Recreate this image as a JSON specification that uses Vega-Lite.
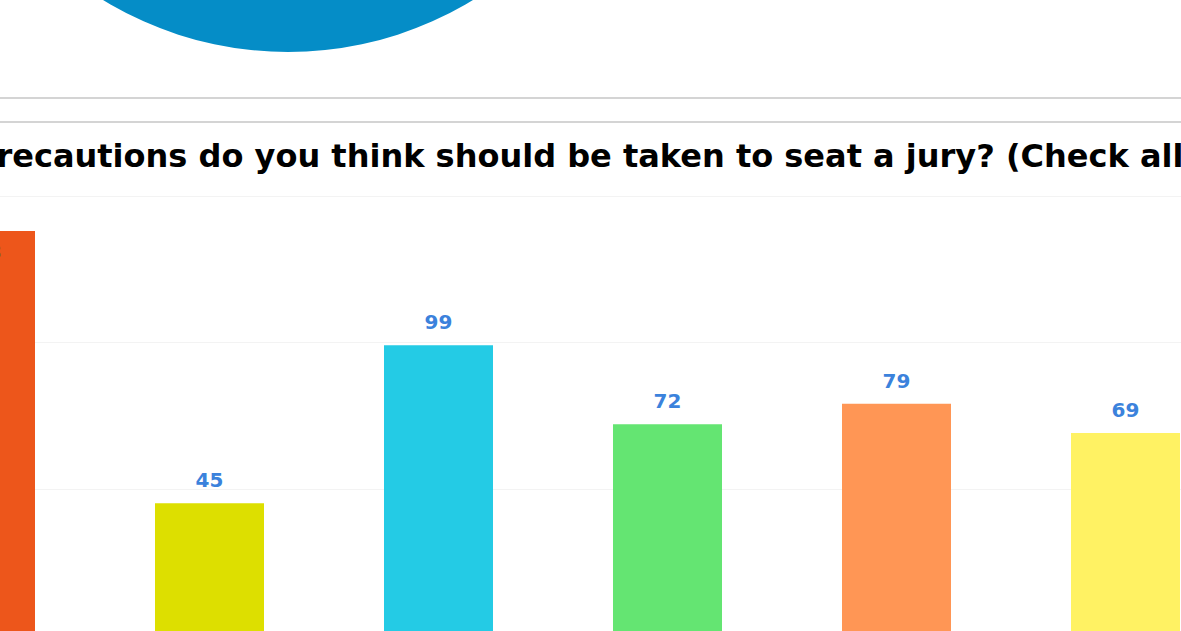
{
  "$schema": "https://vega.github.io/schema/vega-lite/v6.json",
  "padding": {"left": -135, "top": -658, "right": -58, "bottom": -15},
  "background": "white",
  "config": {"view": {"stroke": null}, "font": "DejaVu Sans"},
  "spacing": 18,
  "resolve": {"scale": {"color": "independent"}},
  "vconcat": [
    {
      "spacing": 45,
      "resolve": {"scale": {"color": "independent"}},
      "vconcat": [
        {
          "width": 844,
          "height": 710,
          "data": {"values": [
            {"answer": "Yes", "count": 160},
            {"answer": "No", "count": 40}
          ]},
          "mark": {"type": "arc"},
          "encoding": {
            "theta": {"field": "count", "type": "quantitative"},
            "color": {"field": "answer", "type": "nominal", "sort": null, "scale": {"range": ["#058DC7", "#50B432"]}, "legend": null}
          }
        },
        {
          "width": 1374,
          "height": 24,
          "view": {"stroke": "#d4d4d4", "strokeWidth": 2},
          "data": {"values": []},
          "mark": {"type": "rule"},
          "encoding": {}
        }
      ]
    },
    {
      "width": 1374,
      "height": 439,
      "title": {
        "text": "What precautions do you think should be taken to seat a jury? (Check all that apply)",
        "font": "DejaVu Sans",
        "fontSize": 32,
        "fontWeight": "bold",
        "color": "#000000",
        "anchor": "middle",
        "frame": "group",
        "baseline": "bottom",
        "offset": -10,
        "dx": 78
      },
      "data": {"values": [
        {"option": "Option 1", "count": 138},
        {"option": "Option 2", "count": 45},
        {"option": "Option 3", "count": 99},
        {"option": "Option 4", "count": 72},
        {"option": "Option 5", "count": 79},
        {"option": "Option 6", "count": 69}
      ]},
      "encoding": {
        "x": {
          "field": "option", "type": "nominal", "sort": null,
          "scale": {"paddingInner": 0.524, "paddingOuter": 0.262},
          "axis": {"title": null, "labelAngle": 0, "domain": false, "ticks": false, "labelColor": "#666666", "labelFontSize": 12}
        },
        "y": {
          "field": "count", "type": "quantitative",
          "scale": {"domain": [0, 150], "nice": false},
          "axis": {"title": null, "values": [0, 50, 100, 150], "labels": false, "ticks": false, "domain": false, "grid": true, "gridColor": "#f3f3f3", "gridWidth": 1}
        }
      },
      "layer": [
        {
          "mark": {"type": "bar"},
          "encoding": {
            "color": {"field": "option", "type": "nominal", "sort": null, "legend": null,
              "scale": {"range": ["#ED561B", "#DDDF00", "#24CBE5", "#64E572", "#FF9655", "#FFF263"]}}
          }
        },
        {
          "transform": [{"filter": "datum.count < 130"}],
          "mark": {"type": "text", "baseline": "alphabetic", "dy": -16, "font": "DejaVu Sans", "fontSize": 20, "fontWeight": "bold", "color": "#3b82dc"},
          "encoding": {"text": {"field": "count", "type": "quantitative"}}
        },
        {
          "transform": [{"filter": "datum.count >= 130"}],
          "mark": {"type": "text", "baseline": "alphabetic", "dy": 28, "font": "DejaVu Sans", "fontSize": 20, "fontWeight": "bold", "color": "#3b82dc"},
          "encoding": {"text": {"field": "count", "type": "quantitative"}}
        }
      ]
    }
  ]
}
